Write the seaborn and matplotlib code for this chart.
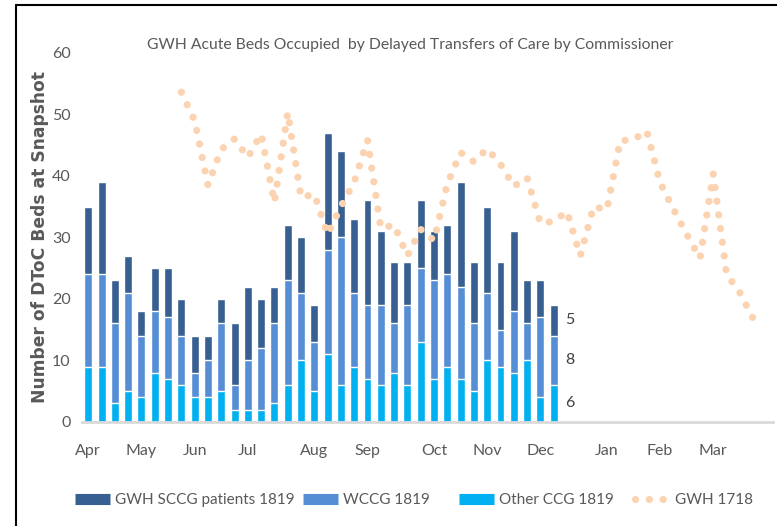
import pandas as pd
import matplotlib
matplotlib.use('Agg')
import matplotlib.pyplot as plt
from matplotlib.lines import Line2D
import seaborn as sns

# weekly snapshots, Apr 2018 - Mar 2019 (52 weeks)
n_weeks = 52
month_names = ['Apr', 'May', 'Jun', 'Jul', 'Aug', 'Sep', 'Oct', 'Nov', 'Dec', 'Jan', 'Feb', 'Mar']
month_weeks = [0, 4, 8, 12, 17, 21, 26, 30, 34, 39, 43, 47]

# 1819 stacked bars (weeks 0..35)
other_ccg = [9, 9, 3, 5, 4, 8, 7, 6, 4, 4, 5, 2, 2, 2, 3, 6, 10, 5,
             11, 6, 9, 7, 6, 8, 6, 13, 7, 9, 7, 5, 10, 9, 8, 10, 4, 6]
wccg = [15, 15, 13, 16, 10, 10, 10, 8, 4, 6, 11, 4, 8, 10, 13, 17, 11, 8,
        17, 24, 12, 12, 13, 8, 13, 12, 16, 15, 15, 11, 11, 6, 10, 6, 13, 8]
sccg = [11, 15, 7, 6, 4, 7, 8, 6, 6, 4, 4, 10, 12, 8, 6, 9, 9, 6,
        19, 14, 12, 17, 12, 10, 7, 11, 8, 8, 17, 10, 14, 11, 13, 7, 6, 5]

# GWH 1718 comparison line
line_start = 7
gwh_1718 = [53.6, 49, 38.5, 44.3, 46, 43, 46.8, 35.7, 50.3, 36.5, 37, 30.5,
            35, 39, 45.8, 31.5, 32, 27, 31.3, 29.5, 38.7, 43.8, 42.3, 44.4,
            41.9, 38.3, 39.7, 32.3, 32.6, 34.2, 27, 35, 34.5, 45.7, 45.9, 47.3,
            38.9, 34.6, 30.5, 26.6, 40.3, 24, 21, 16.8]

c_sccg = '#375f91'
c_wccg = '#568ed5'
c_other = '#00b0f0'
c_line = '#fcd3b1'
grey = '#595959'
dots = (0, (0.01, 1.9))

sns.set_style('white')
plt.rcParams['font.family'] = ['Lato', 'DejaVu Sans']

df = pd.DataFrame({'week': range(len(sccg)), 'other': other_ccg, 'wccg': wccg, 'sccg': sccg})
df['mid'] = df['other'] + df['wccg']
df['total'] = df['mid'] + df['sccg']

fig = plt.figure(figsize=(7.77, 5.26), dpi=100)
ax = fig.add_axes([0.105, 0.198, 0.890, 0.7015])

order = list(range(n_weeks))
sns.barplot(data=df, x='week', y='total', order=order, color=c_sccg, saturation=1,
            width=0.6, errorbar=None, ax=ax)
sns.barplot(data=df, x='week', y='mid', order=order, color=c_wccg, saturation=1,
            width=0.6, errorbar=None, ax=ax)
sns.barplot(data=df, x='week', y='other', order=order, color=c_other, saturation=1,
            width=0.6, errorbar=None, ax=ax)

line_df = pd.DataFrame({'week': range(line_start, line_start + len(gwh_1718)), 'beds': gwh_1718})
sns.lineplot(data=line_df, x='week', y='beds', ax=ax, color=c_line, lw=5.2)
ln = ax.lines[-1]
ln.set_linestyle(dots)
ln.set_dash_capstyle('round')

# data labels for last week
last = len(sccg) - 1
for lo, val in [(0, other_ccg[last]), (other_ccg[last], wccg[last]),
                (other_ccg[last] + wccg[last], sccg[last])]:
    ax.text(last + 1.2, lo + val / 2, str(val), ha='center', va='center',
            fontsize=11.5, color='#404040')

ax.set_xlim(-0.5, n_weeks - 0.5)
ax.set_ylim(0, 60)
ax.set_yticks(range(0, 61, 10))
ax.tick_params(axis='y', length=0, pad=8, labelsize=11.5, labelcolor=grey)
ax.set_xticks(month_weeks)
ax.set_xticklabels(month_names, fontsize=11.5, color=grey)
ax.set_xticks([i - 0.5 for i in range(n_weeks + 1)], minor=True)
ax.tick_params(axis='x', which='major', length=0, pad=16)
ax.tick_params(axis='x', which='minor', length=5, width=1, color='#d9d9d9', direction='out')
ax.set_xlabel('')
ax.set_ylabel('Number of DToC Beds at Snapshot', family='DejaVu Sans', fontweight='bold',
              fontsize=12.3, color=grey)
ax.yaxis.set_label_coords(-0.047, 0.5)
for s in ['top', 'right', 'left']:
    ax.spines[s].set_visible(False)
ax.spines['bottom'].set_color('#d9d9d9')
ax.spines['bottom'].set_linewidth(2)

fig.text(410 / 777, 1 - 45 / 526, 'GWH Acute Beds Occupied  by Delayed Transfers of Care by Commissioner',
         ha='center', va='center', fontsize=11.3, color=grey)

handles = [Line2D([], [], color=c_sccg, lw=8, solid_capstyle='butt'),
           Line2D([], [], color=c_wccg, lw=8, solid_capstyle='butt'),
           Line2D([], [], color=c_other, lw=8, solid_capstyle='butt'),
           Line2D([], [], color=c_line, lw=5.2, linestyle=dots, dash_capstyle='round')]
labels = ['GWH SCCG patients 1819', 'WCCG 1819', 'Other CCG 1819', 'GWH 1718']
leg_x = [75, 303, 459, 635]
for h, lab, x in zip(handles, labels, leg_x):
    leg = fig.legend([h], [lab], loc='center left', bbox_to_anchor=(x / 777, 1 - 500 / 526),
                     frameon=False, fontsize=11, handlelength=2.3, handletextpad=0.35,
                     borderpad=0, borderaxespad=0)
    for t in leg.get_texts():
        t.set_color(grey)

# outer frame (cropped screenshot border)
fig.add_artist(Line2D([16 / 777, 16 / 777], [0, 0.9905], transform=fig.transFigure, color='black', lw=1.5))
fig.add_artist(Line2D([16 / 777, 1], [0.9905, 0.9905], transform=fig.transFigure, color='black', lw=1.5))

fig.savefig('out.png', dpi=100)
